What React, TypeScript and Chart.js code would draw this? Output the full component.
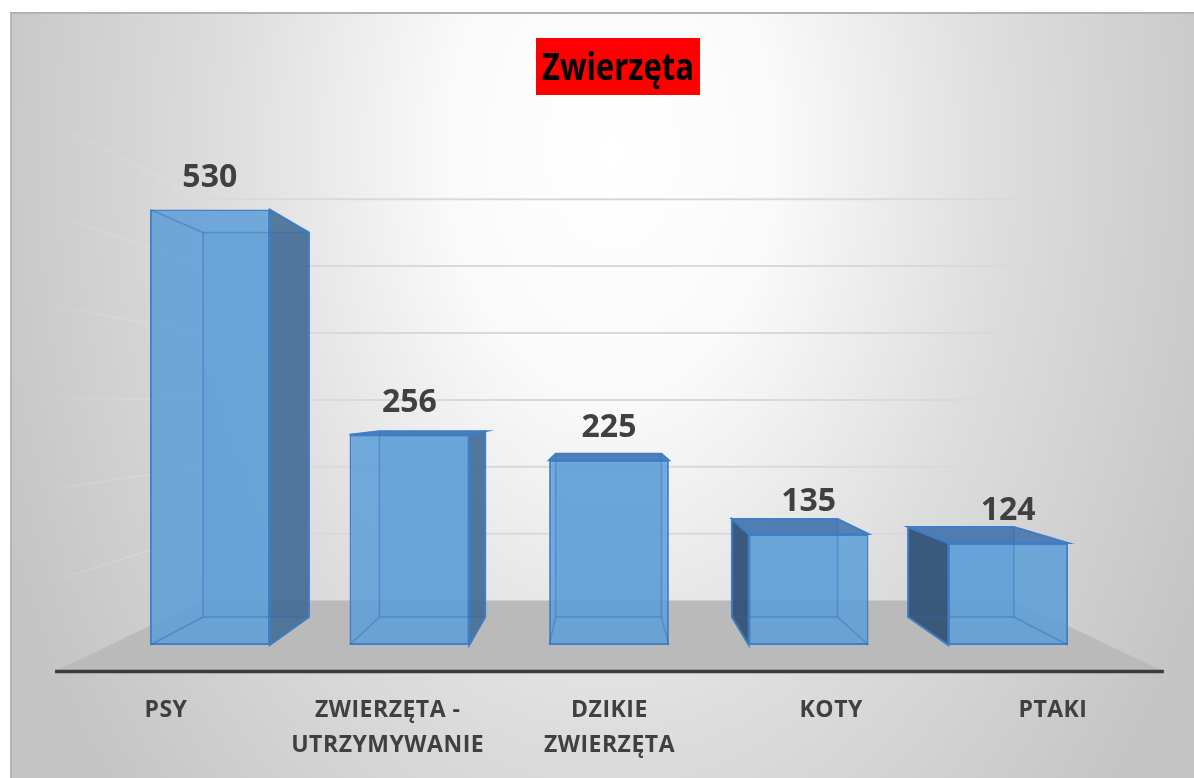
import React, { useEffect, useRef } from "react";
import { Chart, registerables } from "chart.js";

Chart.register(...registerables);

// ---------- data ----------
const TITLE = "Zwierzęta";
const CATEGORIES: string[][] = [
  ["PSY"],
  ["ZWIERZĘTA -", "UTRZYMYWANIE"],
  ["DZIKIE", "ZWIERZĘTA"],
  ["KOTY"],
  ["PTAKI"],
];
const VALUES: number[] = [530, 256, 225, 135, 124];
const Y_MIN = 0;
const Y_MAX = 600;
const Y_STEP = 100;

// ---------- perspective geometry (styling) ----------
const K_BACK = 0.883; // bar back plane relative to bar front plane
const K_WALL = 0.814; // back wall plane
const K_FRONT = 1.111; // floor front edge
const VP_X_SHIFT = -4;
const VP_Y_FRAC = 0.485;

const FONT = "'Open Sans', 'Noto Sans', sans-serif";

type Pt = [number, number];

function vp(chart: any): Pt {
  const ca = chart.chartArea;
  return [(ca.left + ca.right) / 2 + VP_X_SHIFT, ca.bottom - VP_Y_FRAC * (ca.bottom - ca.top)];
}
function proj(v: Pt, x: number, y: number, k: number): Pt {
  return [v[0] + (x - v[0]) * k, v[1] + (y - v[1]) * k];
}
function poly(ctx: CanvasRenderingContext2D, pts: Pt[]) {
  ctx.beginPath();
  ctx.moveTo(pts[0][0], pts[0][1]);
  for (let i = 1; i < pts.length; i++) ctx.lineTo(pts[i][0], pts[i][1]);
  ctx.closePath();
}
function line(ctx: CanvasRenderingContext2D, a: Pt, b: Pt) {
  ctx.beginPath();
  ctx.moveTo(a[0], a[1]);
  ctx.lineTo(b[0], b[1]);
  ctx.stroke();
}

function barBox(chart: any, el: any) {
  const v = vp(chart);
  const p = el.getProps(["x", "y", "base", "width"], true);
  const l = p.x - p.width / 2;
  const r = p.x + p.width / 2;
  const t = p.y;
  const b = p.base;
  const F = { tl: [l, t] as Pt, tr: [r, t] as Pt, br: [r, b] as Pt, bl: [l, b] as Pt };
  const B = {
    tl: proj(v, l, t, K_BACK),
    tr: proj(v, r, t, K_BACK),
    br: proj(v, r, b, K_BACK),
    bl: proj(v, l, b, K_BACK),
  };
  return { v, l, r, t, b, x: p.x, F, B };
}

const scene = {
  id: "scene3d",
  beforeDraw(chart: any) {
    const { ctx, width, height, chartArea: ca } = chart;
    const y = chart.scales.y;
    const v = vp(chart);
    ctx.save();
    ctx.fillStyle = "#ffffff";
    ctx.fillRect(0, 0, width, height);

    // frame with gradient
    const fx = 10;
    const fy = 12;
    ctx.save();
    ctx.beginPath();
    ctx.rect(fx, fy, width - fx, height - fy);
    ctx.clip();
    ctx.save();
    ctx.translate(612, 150);
    ctx.scale(1, 1.5);
    const g = ctx.createRadialGradient(0, 0, 0, 0, 0, 650);
    g.addColorStop(0, "#ffffff");
    g.addColorStop(0.25, "#fafafa");
    g.addColorStop(0.6, "#dddddd");
    g.addColorStop(1, "#c5c5c5");
    ctx.fillStyle = g;
    ctx.fillRect(-2000, -2000, 4000, 4000);
    ctx.restore();
    ctx.fillStyle = "#b3b3b3";
    ctx.fillRect(fx, fy, width - fx, 2);
    ctx.fillStyle = "rgba(170,170,170,0.6)";
    ctx.fillRect(fx, fy, 2, height - fy);
    ctx.restore();

    // title
    ctx.fillStyle = "#ff0000";
    ctx.fillRect(536, 38, 164, 57);
    ctx.fillStyle = "#000000";
    ctx.font = `bold 37px ${FONT}`;
    ctx.textAlign = "center";
    ctx.textBaseline = "alphabetic";
    ctx.fillText(TITLE, 618, 80, 152);

    // wall gridlines
    ctx.lineWidth = 2;
    for (let val = Y_MIN + Y_STEP; val <= Y_MAX; val += Y_STEP) {
      const py = y.getPixelForValue(val);
      const fl = proj(v, ca.left, py, K_FRONT);
      const bl = proj(v, ca.left, py, K_WALL);
      const br = proj(v, ca.right, py, K_WALL);
      const lg = ctx.createLinearGradient(fl[0], 0, bl[0], 0);
      lg.addColorStop(0, "rgba(225,225,225,0.15)");
      lg.addColorStop(1, "rgba(222,222,222,0.75)");
      ctx.strokeStyle = lg;
      ctx.lineWidth = 1.5;
      line(ctx, fl, bl);
      ctx.strokeStyle = "#d9d9d9";
      ctx.lineWidth = 2;
      line(ctx, bl, br);
    }

    // floor
    const py0 = y.getPixelForValue(Y_MIN);
    const f1 = proj(v, ca.left, py0, K_FRONT);
    const f2 = proj(v, ca.right, py0, K_FRONT);
    const f3 = proj(v, ca.right, py0, K_WALL);
    const f4 = proj(v, ca.left, py0, K_WALL);
    ctx.fillStyle = "#bababa";
    poly(ctx, [f1, f2, f3, f4]);
    ctx.fill();
    ctx.strokeStyle = "#3c3c3c";
    ctx.lineWidth = 3.5;
    line(ctx, f1, f2);

    // category labels on the floor front edge
    const meta = chart.getDatasetMeta(0);
    ctx.fillStyle = "#404040";
    ctx.font = `bold 23px ${FONT}`;
    (ctx as any).letterSpacing = "0.5px";
    ctx.textAlign = "center";
    CATEGORIES.forEach((lines, i) => {
      const el = meta.data[i];
      if (!el) return;
      const px = proj(v, el.x, py0, K_FRONT)[0];
      lines.forEach((txt, j) => {
        ctx.fillText(txt, px, f1[1] + 45 + j * 35);
      });
    });
    (ctx as any).letterSpacing = "0px";
    ctx.restore();
  },
  beforeDatasetsDraw(chart: any) {
    const { ctx } = chart;
    const meta = chart.getDatasetMeta(0);
    ctx.save();
    meta.data.forEach((el: any) => {
      const { v, l, r, t, F, B } = barBox(chart, el);
      ctx.fillStyle = "rgba(91,155,213,0.35)";
      poly(ctx, [B.tl, B.tr, B.br, B.bl]);
      ctx.fill();
      if (v[0] < l) {
        ctx.fillStyle = "rgba(46,78,114,0.9)";
        poly(ctx, [F.tl, B.tl, B.bl, F.bl]);
        ctx.fill();
      }
      if (v[0] > r) {
        ctx.fillStyle = "rgba(66,106,148,0.88)";
        poly(ctx, [F.tr, B.tr, B.br, F.br]);
        ctx.fill();
      }
      if (v[1] < t) {
        ctx.fillStyle = "rgba(62,112,172,0.85)";
        poly(ctx, [F.tl, F.tr, B.tr, B.tl]);
        ctx.fill();
      }
    });
    ctx.restore();
  },
  afterDatasetsDraw(chart: any) {
    const { ctx } = chart;
    const meta = chart.getDatasetMeta(0);
    ctx.save();
    meta.data.forEach((el: any, i: number) => {
      const { v, l, r, t, x, F, B } = barBox(chart, el);
      ctx.strokeStyle = "rgba(40,105,180,0.4)";
      ctx.lineWidth = 1.5;
      poly(ctx, [B.tl, B.tr, B.br, B.bl]);
      ctx.stroke();
      line(ctx, F.tl, B.tl);
      line(ctx, F.tr, B.tr);
      line(ctx, F.br, B.br);
      line(ctx, F.bl, B.bl);
      ctx.strokeStyle = "rgba(60,125,198,0.95)";
      ctx.lineWidth = 2;
      if (v[0] < l) {
        poly(ctx, [F.tl, B.tl, B.bl, F.bl]);
        ctx.stroke();
      }
      if (v[0] > r) {
        poly(ctx, [F.tr, B.tr, B.br, F.br]);
        ctx.stroke();
      }
      if (v[1] < t) {
        poly(ctx, [F.tl, F.tr, B.tr, B.tl]);
        ctx.stroke();
      }
      ctx.fillStyle = "#404040";
      ctx.font = `bold 32px ${FONT}`;
      ctx.textAlign = "center";
      ctx.textBaseline = "alphabetic";
      ctx.fillText(String(VALUES[i]), x, t - 23);
    });
    ctx.restore();
  },
};

export default function App() {
  const ref = useRef<HTMLCanvasElement | null>(null);
  useEffect(() => {
    document.body.style.margin = "0";
    const canvas = ref.current;
    if (!canvas) return;
    const chart = new Chart(canvas, {
      type: "bar",
      data: {
        labels: CATEGORIES.map((c) => c.join(" ")),
        datasets: [
          {
            data: VALUES,
            backgroundColor: "rgba(94,158,215,0.87)",
            borderColor: "#3f80c8",
            borderWidth: 2,
            borderSkipped: false,
            barPercentage: 0.6,
            categoryPercentage: 1,
          },
        ],
      },
      options: {
        animation: false,
        responsive: false,
        devicePixelRatio: 1,
        layout: { padding: { left: 110, right: 86, top: 152, bottom: 133 } },
        plugins: {
          legend: { display: false },
          tooltip: { enabled: false },
          title: { display: false },
        },
        scales: {
          x: { display: false },
          y: { display: false, min: Y_MIN, max: Y_MAX, ticks: { stepSize: Y_STEP } },
        },
      },
      plugins: [scene],
    });
    return () => chart.destroy();
  }, []);
  return (
    <div style={{ width: 1194, height: 778 }}>
      <canvas ref={ref} width={1194} height={778} style={{ display: "block" }} />
    </div>
  );
}
